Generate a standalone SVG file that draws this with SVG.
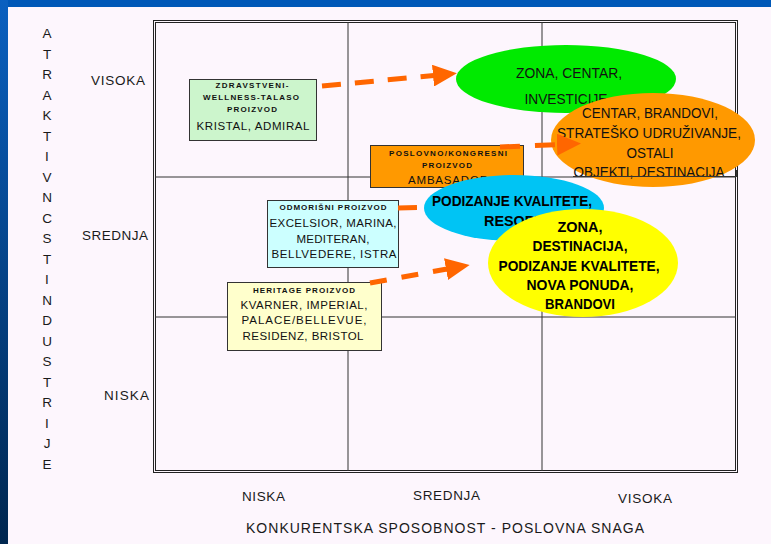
<svg xmlns="http://www.w3.org/2000/svg" width="771" height="544" viewBox="0 0 771 544">
<defs>
<linearGradient id="sideGrad" x1="0" y1="0" x2="0" y2="1">
<stop offset="0" stop-color="#0a60c0"/>
<stop offset="1" stop-color="#00264f"/>
</linearGradient>
<marker id="head" markerUnits="userSpaceOnUse" markerWidth="26" markerHeight="22" refX="1" refY="11" orient="auto">
<path d="M0,0 L24,11 L0,22 Z" fill="#ff6600"/>
</marker>
<style>
.bg{fill:#fdf6fd}
.grid{fill:none;stroke:#333;stroke-width:1}
.border{fill:none;stroke:#222;stroke-width:1}
.axis{font-family:"Liberation Sans",Arial,sans-serif;font-size:13.5px;fill:#1a1a1a}
.ttl{font-family:"Liberation Sans",Arial,sans-serif;font-size:14px;fill:#1a1a1a}
.box{stroke:#333;stroke-width:1}
.hd{font-family:"Liberation Sans",Arial,sans-serif;font-size:8px;font-weight:bold;fill:#111;text-anchor:middle}
.bt{font-family:"Liberation Sans",Arial,sans-serif;font-size:11.5px;fill:#111;text-anchor:middle}
.et{font-family:"Liberation Sans",Arial,sans-serif;font-size:15px;fill:#111;text-anchor:middle}
.eb{font-family:"Liberation Sans",Arial,sans-serif;font-size:15px;font-weight:bold;fill:#000;text-anchor:middle}
.conn{fill:none;stroke:#ff6600;stroke-width:5}
</style>
</defs>
<rect class="bg" x="0" y="0" width="771" height="544"/>
<rect x="0" y="0" width="771" height="7" fill="#0058b8"/>
<rect x="0" y="0" width="8" height="544" fill="url(#sideGrad)"/>

<!-- grid -->
<g id="grid">
<rect class="border" x="153.5" y="20.5" width="584" height="452"/>
<rect class="border" x="155.5" y="22.5" width="580" height="448"/>
<line class="grid" x1="348" y1="22" x2="348" y2="471"/>
<line class="grid" x1="542" y1="22" x2="542" y2="471"/>
<line class="grid" x1="155" y1="177" x2="736" y2="177"/>
<line class="grid" x1="155" y1="317" x2="736" y2="317"/>
</g>

<!-- axis labels -->
<g id="yaxis" class="axis" text-anchor="middle">
<text x="47" y="38">A</text><text x="47" y="58.5">T</text><text x="47" y="79">R</text><text x="47" y="99.6">A</text><text x="47" y="120.1">K</text><text x="47" y="140.6">T</text><text x="47" y="161.1">I</text><text x="47" y="181.6">V</text><text x="47" y="202.2">N</text><text x="47" y="222.7">C</text><text x="47" y="243.2">S</text><text x="47" y="263.7">T</text><text x="47" y="284.2">I</text><text x="47" y="304.8">N</text><text x="47" y="325.3">D</text><text x="47" y="345.8">U</text><text x="47" y="366.3">S</text><text x="47" y="386.8">T</text><text x="47" y="407.4">R</text><text x="47" y="427.9">I</text><text x="47" y="448.4">J</text><text x="47" y="468.9">E</text>
</g>
<g id="ylabels" class="axis">
<text x="91" y="85" textLength="54">VISOKA</text>
<text x="82" y="240" textLength="66">SREDNJA</text>
<text x="104" y="400" textLength="45">NISKA</text>
</g>
<g id="xlabels" class="axis">
<text x="242" y="501" textLength="43">NISKA</text>
<text x="413" y="500" textLength="67">SREDNJA</text>
<text x="618" y="503" textLength="54">VISOKA</text>
<text class="ttl" x="246" y="533" textLength="398">KONKURENTSKA SPOSOBNOST - POSLOVNA SNAGA</text>
</g>

<!-- product boxes -->
<g id="box-wellness">
<rect class="box" x="189.5" y="79.5" width="127" height="61" fill="#ccf5cc"/>
<text class="hd" x="252" y="88" textLength="73" lengthAdjust="spacing">ZDRAVSTVENI-</text>
<text class="hd" x="251" y="100" textLength="96" lengthAdjust="spacing">WELLNESS-TALASO</text>
<text class="hd" x="252" y="112" textLength="50" lengthAdjust="spacing">PROIZVOD</text>
<text class="bt" x="253" y="130" textLength="113" lengthAdjust="spacing">KRISTAL, ADMIRAL</text>
</g>
<g id="box-kongres">
<rect class="box" x="370.5" y="145.5" width="153" height="42" fill="#ff9900"/>
<text class="hd" x="448" y="156" textLength="118" lengthAdjust="spacing">POSLOVNO/KONGRESNI</text>
<text class="hd" x="447" y="168" textLength="50" lengthAdjust="spacing">PROIZVOD</text>
<text class="bt" x="448" y="184" font-size="12" textLength="80" lengthAdjust="spacing">AMBASADOR</text>
</g>
<g id="box-odmor">
<rect class="box" x="267.5" y="200.5" width="131" height="67" fill="#ccffff"/>
<text class="hd" x="333" y="210" textLength="107" lengthAdjust="spacing">ODMORIŠNI PROIZVOD</text>
<text class="bt" x="333" y="227" textLength="127" lengthAdjust="spacing">EXCELSIOR, MARINA,</text>
<text class="bt" x="333" y="243" textLength="73" lengthAdjust="spacing">MEDITERAN,</text>
<text class="bt" x="334" y="258" textLength="125" lengthAdjust="spacing">BELLVEDERE, ISTRA</text>
</g>
<g id="box-heritage">
<rect class="box" x="227.5" y="282.5" width="154" height="68" fill="#ffffcc"/>
<text class="hd" x="304" y="293" textLength="102" lengthAdjust="spacing">HERITAGE PROIZVOD</text>
<text class="bt" x="304" y="309" textLength="127" lengthAdjust="spacing">KVARNER, IMPERIAL,</text>
<text class="bt" x="304" y="324" textLength="125" lengthAdjust="spacing">PALACE/BELLEVUE,</text>
<text class="bt" x="303" y="340" textLength="121" lengthAdjust="spacing">RESIDENZ, BRISTOL</text>
</g>

<!-- hidden connector under blue ellipse -->
<g id="connectors-under">
<path class="conn" d="M398,208 L440,207" stroke-dasharray="19 14" marker-end="url(#head)"/>
</g>

<!-- strategy ellipses -->
<g id="ell-green">
<ellipse cx="566" cy="79" rx="110" ry="34" fill="#00ea00"/>
<text class="et" x="569" y="78" textLength="106" lengthAdjust="spacingAndGlyphs">ZONA, CENTAR,</text>
<text class="et" x="566" y="104" textLength="83" lengthAdjust="spacingAndGlyphs">INVESTICIJE</text>
</g>
<g id="ell-orange">
<ellipse cx="653" cy="140" rx="102" ry="47" fill="#ff9900"/>
<text class="et" x="650" y="118" textLength="136" lengthAdjust="spacingAndGlyphs">CENTAR, BRANDOVI,</text>
<text class="et" x="649" y="138" textLength="184" lengthAdjust="spacingAndGlyphs">STRATEŠKO UDRUŽIVANJE,</text>
<text class="et" x="650" y="158" textLength="47" lengthAdjust="spacingAndGlyphs">OSTALI</text>
<text class="et" x="649" y="177" textLength="151" lengthAdjust="spacingAndGlyphs">OBJEKTI, DESTINACIJA</text>
<path d="M573,176.5 H736 M736.5,170 V177" stroke="#333" stroke-width="1" fill="none"/>
</g>
<g id="ell-blue">
<ellipse cx="514" cy="208" rx="90" ry="33" fill="#00c4f4"/>
<text class="eb" x="512" y="206" textLength="160" lengthAdjust="spacingAndGlyphs">PODIZANJE KVALITETE,</text>
<text class="eb" x="514" y="226" textLength="60" lengthAdjust="spacingAndGlyphs">RESORT</text>
</g>
<g id="ell-yellow">
<ellipse cx="583" cy="263" rx="95" ry="54" fill="#ffff00"/>
<text class="eb" x="580" y="232" textLength="45" lengthAdjust="spacingAndGlyphs">ZONA,</text>
<text class="eb" x="580" y="251" textLength="95" lengthAdjust="spacingAndGlyphs">DESTINACIJA,</text>
<text class="eb" x="579" y="271" textLength="161" lengthAdjust="spacingAndGlyphs">PODIZANJE KVALITETE,</text>
<text class="eb" x="580" y="290" textLength="107" lengthAdjust="spacingAndGlyphs">NOVA PONUDA,</text>
<text class="eb" x="580" y="309" textLength="70" lengthAdjust="spacingAndGlyphs">BRANDOVI</text>
</g>

<!-- connectors -->
<g id="connectors">
<path class="conn" d="M322,86 L434,75.5" stroke-dasharray="19 14" marker-end="url(#head)"/>
<path class="conn" d="M500,147 L558,144.5" stroke-dasharray="20 15" marker-end="url(#head)"/>
<path class="conn" d="M370,283 L447,269" stroke-dasharray="17 15" marker-end="url(#head)"/>
</g>
</svg>
